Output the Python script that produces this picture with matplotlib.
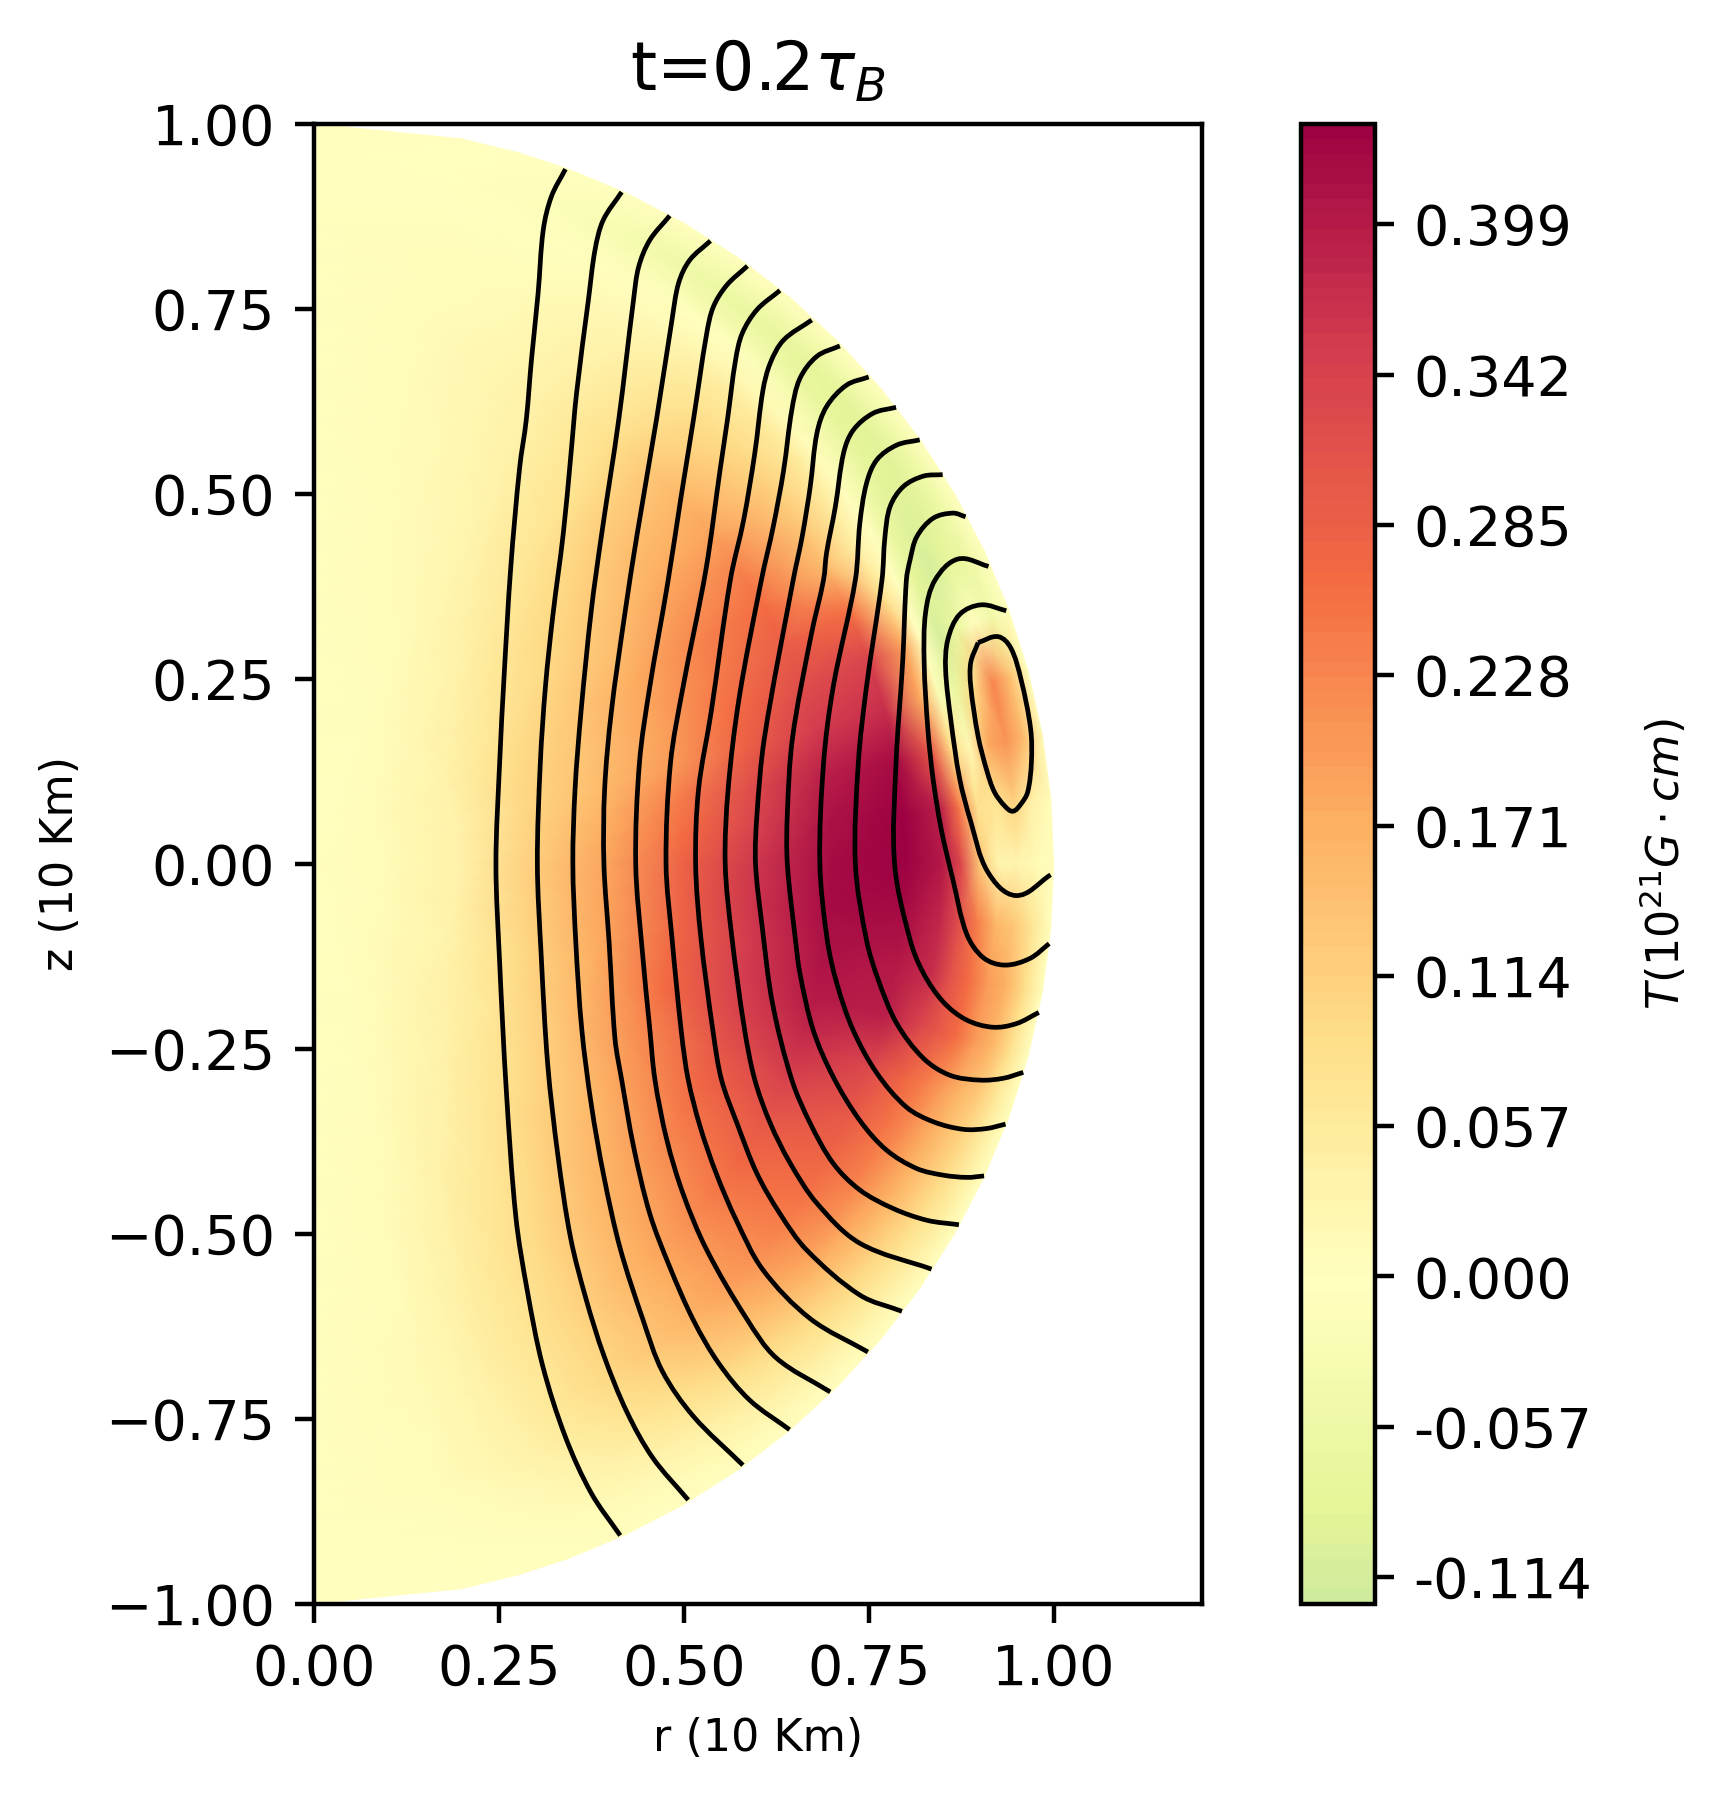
import numpy as np
import matplotlib
matplotlib.use("Agg")
import matplotlib.pyplot as plt
from matplotlib.path import Path
from matplotlib.patches import PathPatch

# polar grid of the toroidal field, theta measured from the +z axis
theta_deg = [0, 11.5, 16, 20, 25, 30, 35, 40, 45, 50, 55, 60, 65, 70, 75, 80, 85, 90, 95, 100, 105, 110, 115, 120,
             125, 130, 135, 140, 145, 150, 155, 160, 164, 168.5, 180]
rho = [0, .1, .2, .3, .4, .5, .6, .7, .8, .85, .875, .9, .925, .95, .975, 1.0]
T_vals = [
    [0, 0, 0, 0, 0, 0, 0, 0, 0, 0, 0, 0, 0, 0, 0, 0],
    [0, .002, .004, .006, .008, .01, .012, .013, .01, .008, .005, .003, 0, -.002, -.002, 0],
    [0, .0025, .005, .008, .011, .015, .017, .018, .012, .009, .005, .001, -.005, -.007, -.005, 0],
    [0, .003, .006, .01, .015, .02, .022, .024, .015, .01, .006, 0, -.01, -.012, -.008, 0],
    [0, .004, .008, .015, .022, .03, .035, .036, .024, .014, .008, .002, -.018, -.03, -.02, 0],
    [0, .005, .012, .023, .035, .048, .055, .058, .036, .018, .01, .004, -.025, -.05, -.03, 0],
    [0, .006, .015, .03, .048, .065, .078, .085, .055, .034, .016, -.002, -.04, -.062, -.036, 0],
    [0, .008, .02, .04, .068, .092, .115, .125, .08, .05, .02, -.006, -.05, -.07, -.04, 0],
    [0, .009, .023, .05, .082, .112, .145, .16, .095, .055, .015, -.025, -.068, -.082, -.046, 0],
    [0, .01, .025, .06, .095, .13, .17, .185, .11, .06, .01, -.04, -.08, -.09, -.05, 0],
    [0, .011, .028, .07, .11, .15, .20, .23, .13, .05, .005, -.05, -.09, -.095, -.055, 0],
    [0, .012, .032, .085, .125, .175, .23, .26, .15, .04, 0, -.07, -.10, -.095, -.055, 0],
    [0, .012, .034, .095, .135, .185, .24, .29, .26, .08, 0, -.09, -.11, -.08, -.06, 0],
    [0, .012, .035, .10, .14, .19, .26, .32, .34, .19, 0, -.11, -.07, 0, -.05, 0],
    [0, .012, .037, .105, .15, .20, .28, .35, .37, .18, -.02, -.07, .10, .23, .14, 0],
    [0, .012, .038, .11, .165, .24, .32, .39, .42, .30, .10, .02, .18, .21, .15, .02],
    [0, .012, .04, .115, .18, .26, .34, .41, .437, .39, .25, .08, .07, .11, .04, .01],
    [0, .012, .04, .12, .19, .28, .36, .42, .437, .40, .33, .13, .03, .03, .015, 0],
    [0, .012, .04, .12, .19, .28, .365, .42, .42, .38, .32, .24, .16, .13, .07, 0],
    [0, .012, .04, .115, .185, .275, .355, .41, .40, .37, .31, .26, .20, .17, .09, 0],
    [0, .012, .038, .11, .18, .27, .35, .40, .39, .33, .30, .26, .20, .16, .08, 0],
    [0, .012, .035, .10, .17, .26, .33, .375, .33, .27, .24, .20, .16, .12, .06, 0],
    [0, .011, .033, .092, .16, .235, .30, .335, .30, .25, .22, .18, .14, .10, .05, 0],
    [0, .01, .03, .085, .145, .21, .27, .30, .275, .235, .20, .165, .125, .085, .045, 0],
    [0, .01, .028, .072, .125, .185, .24, .27, .25, .21, .175, .14, .105, .07, .035, 0],
    [0, .01, .026, .06, .11, .16, .21, .24, .225, .185, .155, .12, .09, .06, .03, 0],
    [0, .009, .024, .052, .095, .14, .18, .205, .195, .155, .13, .10, .075, .05, .025, 0],
    [0, .008, .022, .045, .08, .12, .155, .175, .165, .13, .11, .085, .06, .04, .02, 0],
    [0, .007, .018, .036, .065, .095, .125, .14, .13, .105, .085, .065, .045, .03, .015, 0],
    [0, .006, .015, .03, .05, .075, .095, .105, .10, .08, .065, .05, .035, .02, .01, 0],
    [0, .005, .012, .023, .037, .055, .07, .075, .07, .055, .045, .035, .025, .015, .007, 0],
    [0, .004, .009, .016, .025, .035, .045, .048, .043, .035, .028, .02, .014, .008, .004, 0],
    [0, .003, .006, .011, .017, .023, .028, .03, .027, .022, .017, .012, .008, .005, .002, 0],
    [0, .001, .004, .006, .008, .011, .013, .014, .013, .011, .008, .006, .005, .002, .001, 0],
    [0, 0, 0, 0, 0, 0, 0, 0, 0, 0, 0, 0, 0, 0, 0, 0],
]

# poloidal field lines, (r, z)
line01 = [(.340, .939), (.321, .902), (.310, .857), (.303, .771), (.294, .681), (.287, .600), (.278, .535), (.266, .400), (.257, .253), (.251, .136), (.246, 0),
          (.251, -.133), (.260, -.306), (.273, -.478), (.288, -.575), (.309, -.678), (.340, -.775), (.375, -.851), (.414, -.908)]
line02 = [(.416, .908), (.391, .870), (.380, .830), (.371, .762), (.355, .636), (.347, .549), (.337, .446), (.323, .336), (.313, .240), (.306, .136), (.302, 0),
          (.307, -.120), (.316, -.271), (.330, -.396), (.347, -.506), (.368, -.589), (.392, -.665), (.423, -.741), (.458, -.803), (.506, -.860)]
line03 = [(.481, .876), (.454, .843), (.439, .807), (.432, .762), (.412, .600), (.389, .446), (.375, .343), (.361, .205), (.353, .101), (.350, 0),
          (.354, -.106), (.362, -.223), (.375, -.326), (.392, -.423), (.414, -.520), (.445, -.617), (.471, -.686), (.513, -.747), (.580, -.813)]
line04 = [(.536, .842), (.508, .816), (.493, .785), (.484, .735), (.463, .600), (.437, .446), (.420, .336), (.402, .205), (.393, .101), (.392, 0),
          (.399, -.106), (.407, -.237), (.416, -.292), (.432, -.382), (.454, -.473), (.481, -.545), (.513, -.617), (.547, -.675), (.589, -.725), (.643, -.765)]
line05 = [(.586, .808), (.558, .782), (.540, .753), (.531, .717), (.513, .600), (.496, .494), (.478, .378), (.454, .239), (.440, .136), (.435, 0),
          (.444, -.119), (.454, -.223), (.461, -.292), (.477, -.373), (.499, -.446), (.531, -.522), (.585, -.615), (.625, -.668), (.698, -.714)]
line06 = [(.630, .775), (.599, .749), (.579, .717), (.570, .681), (.559, .600), (.549, .532), (.530, .398), (.499, .239), (.482, .136), (.476, 0),
          (.484, -.100), (.497, -.230), (.506, -.292), (.522, -.355), (.544, -.419), (.571, -.482), (.607, -.549), (.671, -.615), (.749, -.660)]
line07 = [(.673, .735), (.635, .708), (.617, .677), (.607, .640), (.596, .555), (.581, .465), (.563, .384), (.537, .205), (.520, .101), (.516, 0),
          (.523, -.099), (.540, -.230), (.551, -.292), (.572, -.351), (.599, -.419), (.630, -.473), (.666, -.522), (.738, -.583), (.795, -.605)]
line08 = [(.711, .700), (.680, .686), (.657, .656), (.646, .613), (.635, .532), (.621, .456), (.605, .384), (.575, .225), (.560, .101), (.556, 0),
          (.565, -.099), (.582, -.223), (.596, -.292), (.617, -.351), (.644, -.405), (.680, -.459), (.738, -.513), (.835, -.548)]
line09 = [(.750, .658), (.720, .647), (.693, .618), (.680, .582), (.671, .510), (.660, .442), (.648, .384), (.609, .170), (.599, .067), (.597, 0),
          (.606, -.085), (.620, -.189), (.646, -.292), (.671, -.351), (.702, -.405), (.738, -.441), (.783, -.466), (.829, -.482), (.872, -.488)]
line10 = [(.787, .617), (.756, .609), (.729, .586), (.716, .555), (.705, .483), (.693, .420), (.689, .384), (.672, .308), (.647, .170), (.640, .067), (.640, 0),
          (.651, -.103), (.657, -.148), (.675, -.225), (.702, -.288), (.738, -.347), (.774, -.387), (.815, -.412), (.851, -.421), (.883, -.424), (.906, -.422)]
line11 = [(.819, .573), (.788, .566), (.761, .546), (.747, .514), (.738, .460), (.732, .384), (.702, .239), (.689, .136), (.684, 0),
          (.694, -.103), (.707, -.162), (.729, -.225), (.761, -.283), (.801, -.329), (.838, -.349), (.878, -.359), (.909, -.358), (.935, -.352)]
line12 = [(.850, .526), (.824, .524), (.797, .510), (.779, .483), (.772, .442), (.768, .384), (.747, .239), (.736, .136), (.732, 0),
          (.747, -.103), (.763, -.157), (.788, -.216), (.824, -.263), (.860, -.286), (.901, -.2925), (.932, -.290), (.959, -.282)]
line13 = [(.881, .469), (.864, .474), (.837, .467), (.815, .442), (.806, .411), (.801, .384), (.796, .274), (.787, .136), (.785, 0),
          (.806, -.103), (.824, -.148), (.851, -.187), (.882, -.211), (.918, -.221), (.950, -.216), (.980, -.201)]
line14 = [(.912, .402), (.871, .412), (.840, .384), (.827, .340), (.825, .272), (.830, .182), (.837, .115), (.848, .047), (.864, -.022),
          (.8825, -.095), (.905, -.127), (.934, -.137), (.968, -.128), (.994, -.108)]
line15 = [(.936, .342), (.902, .350), (.873, .337), (.857, .303), (.854, .263), (.861, .195), (.873, .115), (.888, .057), (.911, -.011),
          (.949, -.043), (.996, -.015)]
loop = [(.898, .299), (.925, .307), (.942, .292), (.956, .249), (.969, .182), (.970, .137), (.965, .097), (.956, .081), (.945, .071), (.934, .078),
        (.920, .097), (.910, .125), (.898, .172), (.888, .240), (.888, .272), (.898, .299)]
field_lines = [line01, line02, line03, line04, line05, line06, line07, line08, line09, line10, line11, line12, line13, line14, line15, loop]

cbar_ticks = [-.114, -.057, 0, .057, .114, .171, .228, .285, .342, .399]
cbar_labels = ["-0.114", "-0.057", "0.000", "0.057", "0.114", "0.171", "0.228", "0.285", "0.342", "0.399"]
vmin, vmax = -.124, .437


def smooth_path(pts):
    # bezier through the read points so the lines are not faceted
    p = np.array(pts, dtype=float)
    before = np.vstack([p[0], p[:-1]])
    after = np.vstack([p[1:], p[-1]])
    u = after - before
    u = u/np.linalg.norm(u, axis=1, keepdims=True)
    verts = [p[0]]
    codes = [Path.MOVETO]
    for i in range(len(p)-1):
        d = np.linalg.norm(p[i+1]-p[i])/3.0
        verts += [p[i]+u[i]*d, p[i+1]-u[i+1]*d, p[i+1]]
        codes += [Path.CURVE4]*3
    return Path(verts, codes)


W, H = 1727, 1801
left, right, top, bottom = 314, 1201.5, 124, 1603.5
fig = plt.figure(figsize=(W/400, H/400), dpi=400)
ax = fig.add_axes([left/W, 1-bottom/H, (right-left)/W, (bottom-top)/H])
cax = fig.add_axes([1300.5/W, 1-bottom/H, 74/W, (bottom-top)/H])

th = np.radians(theta_deg)
RHO, TH = np.meshgrid(rho, th)
R = RHO*np.sin(TH)
Z = RHO*np.cos(TH)
T = np.array(T_vals)

mesh = ax.pcolormesh(R, Z, T, shading="gouraud", cmap="Spectral_r", vmin=-vmax, vmax=vmax)

for pts in field_lines:
    ax.add_patch(PathPatch(smooth_path(pts), fc="none", ec="k", lw=0.85))

ax.set_xlim(0, 1.2)
ax.set_ylim(-1, 1)
ax.set_xticks([0, .25, .5, .75, 1.0])
ax.set_yticks([-1, -.75, -.5, -.25, 0, .25, .5, .75, 1.0])
ax.set_xlabel("r (10 Km)", fontsize=8)
ax.set_ylabel("z (10 Km)", fontsize=8)
ax.xaxis.set_label_coords(0.5, -0.077)
ax.yaxis.set_label_coords((82-left)/(right-left), 0.5)
ax.set_title(r"t=0.2$\tau_B$", fontsize=12)

cb = fig.colorbar(mesh, cax=cax, boundaries=np.linspace(vmin, vmax, 100))
cb.set_ticks(cbar_ticks)
cb.set_ticklabels(cbar_labels)
cb.set_label(r"$T(10^{21}G\cdot cm)$", fontsize=8)
cax.yaxis.set_label_coords((1638-1300.5)/74, 0.5)

fig.savefig("out.png", dpi=400)
